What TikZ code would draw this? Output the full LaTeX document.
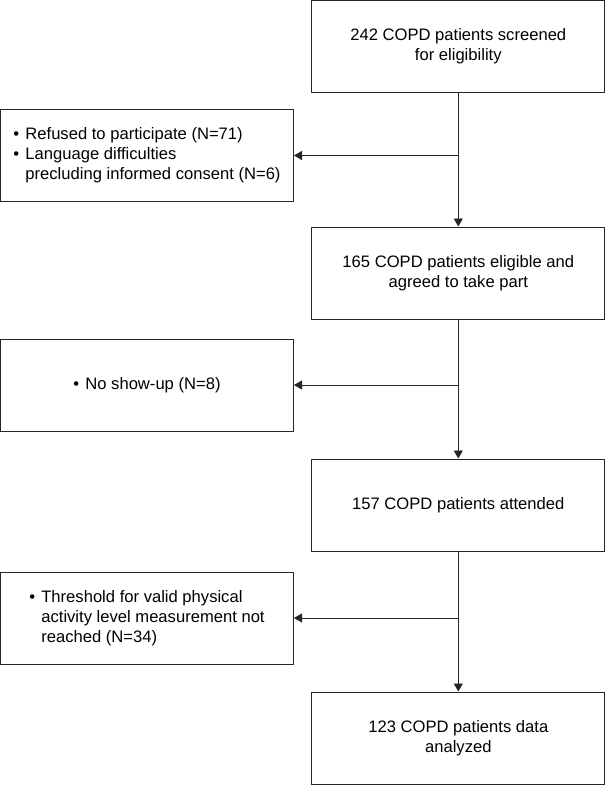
\documentclass[tikz,border=0pt]{standalone}
\usepackage{fontspec}
\setmainfont{Liberation Sans}
\usetikzlibrary{arrows.meta}
\newcommand{\bul}{\makebox[12pt][l]{\textbullet}}
\newcommand{\bulind}{\hspace*{12pt}}
\begin{document}
\begin{tikzpicture}[x=1pt,y=-1pt,
  box/.style={draw=black!85,line width=1pt,minimum width=293pt,minimum height=92pt,inner sep=0pt,
    font=\fontsize{16.6pt}{20pt}\selectfont,align=center},
  sidebox/.style={box,align=left},
  arr/.style={draw=black!85,line width=0.9pt,-{Triangle[length=8pt,width=9pt]}}]
\useasboundingbox[fill=white] (0,0) rectangle (606,785);
\node[box] (b1) at (458.3,46) {242 COPD patients screened\\for eligibility};
\node[box] (b2) at (458.3,273) {165 COPD patients eligible and\\agreed to take part};
\node[box] (b3) at (458.3,505) {157 COPD patients attended};
\node[box] (b4) at (458.3,738) {123 COPD patients data\\analyzed};
\node[sidebox] (sA) at (147,155.5) {\bul Refused to participate (N=71)\\\bul Language difficulties\\\bulind precluding informed consent (N=6)};
\node[sidebox] (sB) at (147,385) {\bul No show-up (N=8)};
\node[sidebox] (sC) at (147,618) {\bul Threshold for valid physical\\\bulind activity level measurement not\\\bulind reached (N=34)};
\coordinate (j1) at (b1.south |- sA.east);
\coordinate (j2) at (b2.south |- sB.east);
\coordinate (j3) at (b3.south |- sC.east);
\draw[arr] (b1.south) -- (b2.north);
\draw[arr] (b2.south) -- (b3.north);
\draw[arr] (b3.south) -- (b4.north);
\draw[arr] (j1) -- (sA.east);
\draw[arr] (j2) -- (sB.east);
\draw[arr] (j3) -- (sC.east);
\end{tikzpicture}
\end{document}
